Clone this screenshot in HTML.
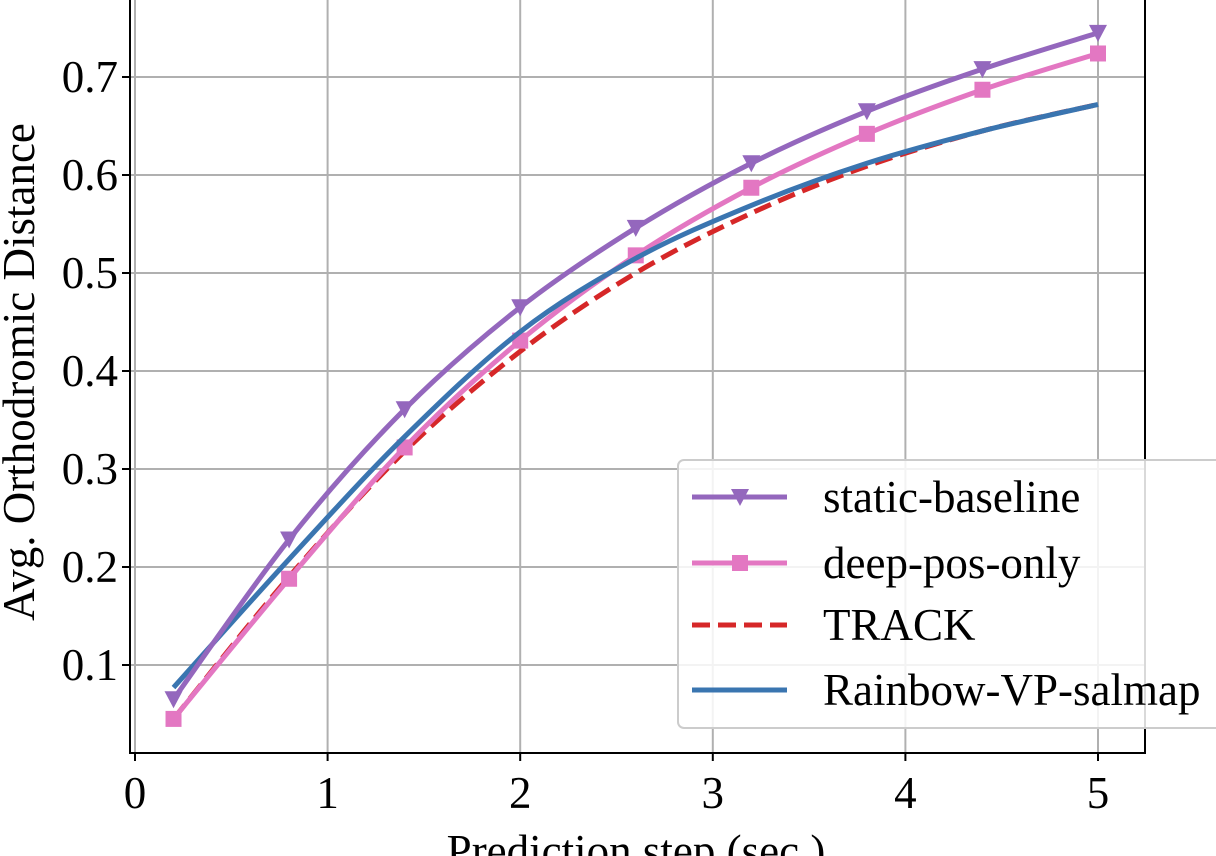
<!DOCTYPE html>
<html><head><meta charset="utf-8"><style>
body{margin:0;background:#fff}
svg{display:block;font-family:"Liberation Serif",serif}
</style></head><body>
<svg id="chart" width="1216" height="856" viewBox="0 0 1216 856" xmlns="http://www.w3.org/2000/svg"></svg>
<script>
const xValues=[0.2,0.8,1.4,2.0,2.6,3.2,3.8,4.4,5.0];
const staticBaseline=[0.065,0.228,0.361,0.465,0.546,0.612,0.665,0.708,0.745];
const deepPosOnly=[0.045,0.188,0.322,0.431,0.518,0.587,0.642,0.687,0.724];
const trackValues=[0.045,0.19,0.318,0.42,0.50,0.561,0.609,0.645,0.672];
const rainbowValues=[0.077,0.208,0.333,0.44,0.515,0.569,0.612,0.645,0.672];
const xTicks=[0,1,2,3,4,5];
const yTicks=[0.1,0.2,0.3,0.4,0.5,0.6,0.7];
const seriesNames=["static-baseline","deep-pos-only","TRACK","Rainbow-VP-salmap"];

const svg=document.getElementById('chart');
const NS='http://www.w3.org/2000/svg';
const L=130,R=1145,T=-2,B=753;
const FS=45;
const xs=v=>135+v*192.6;
const ys=v=>763-v*980;
function mk(tag,attrs,parent){const e=document.createElementNS(NS,tag);for(const k in attrs)e.setAttribute(k,attrs[k]);(parent||svg).appendChild(e);return e;}

xTicks.forEach(t=>{
  const g=mk('line',{x1:xs(t),x2:xs(t),y1:T,y2:B,stroke:'#b0b0b0','stroke-width':2});
  
  
  const tk=mk('line',{x1:xs(t),x2:xs(t),y1:B,y2:B+8,stroke:'#000','stroke-width':2});
  
  
  const tx=mk('text',{x:xs(t),y:B+55,'font-size':FS,'text-anchor':'middle'});tx.textContent=t;
  
  
});
yTicks.forEach(t=>{
  const g=mk('line',{x1:L,x2:R,y1:ys(t),y2:ys(t),stroke:'#b0b0b0','stroke-width':2});
  
  
  const tk=mk('line',{x1:L-8,x2:L,y1:ys(t),y2:ys(t),stroke:'#000','stroke-width':2});
  
  
  const tx=mk('text',{x:L-12,y:ys(t)+15,'font-size':FS,'text-anchor':'end'});tx.textContent=t.toFixed(1);
  
  
});
const frame=mk('rect',{x:L,y:T,width:R-L,height:B-T,fill:'none',stroke:'#000','stroke-width':2});



function smooth(vals){
  const p=xValues.map((x,i)=>[xs(x),ys(vals[i])]);
  let d='M'+p[0][0]+','+p[0][1];
  for(let i=0;i<p.length-1;i++){
    const p0=p[Math.max(0,i-1)],p1=p[i],p2=p[i+1],p3=p[Math.min(p.length-1,i+2)];
    const c1=[p1[0]+(p2[0]-p0[0])/6,p1[1]+(p2[1]-p0[1])/6];
    const c2=[p2[0]-(p3[0]-p1[0])/6,p2[1]-(p3[1]-p1[1])/6];
    d+=' C'+c1+' '+c2+' '+p2;
  }
  return d;
}
function tri(x,y,c,name){const e=mk('path',{d:`M${x-9},${y-8} L${x+9},${y-8} L${x},${y+9} Z`,fill:c});}
function sq(x,y,c,name){const e=mk('rect',{x:x-8,y:y-8,width:16,height:16,fill:c});}

const cols=['#9467bd','#e377c2','#d62728','#3a75b0'];
const LW=5;
let e;
e=mk('path',{d:smooth(trackValues),fill:'none',stroke:cols[2],'stroke-width':LW,'stroke-dasharray':'18,8'});

e=mk('path',{d:smooth(deepPosOnly),fill:'none',stroke:cols[1],'stroke-width':LW});

xValues.forEach((x,i)=>sq(xs(x),ys(deepPosOnly[i]),cols[1],'deep-pos-only-marker'));
e=mk('path',{d:smooth(rainbowValues),fill:'none',stroke:cols[3],'stroke-width':LW});

e=mk('path',{d:smooth(staticBaseline),fill:'none',stroke:cols[0],'stroke-width':LW});

xValues.forEach((x,i)=>tri(xs(x),ys(staticBaseline[i]),cols[0],'static-baseline-marker'));

const lg=mk('rect',{x:678,y:460,width:560,height:268,rx:6,fill:'#fff','fill-opacity':0.85,stroke:'#ccc','stroke-width':2});

const ly=[497,563,625,690];
seriesNames.forEach((n,i)=>{
  const l=mk('line',{x1:692,x2:787,y1:ly[i],y2:ly[i],stroke:cols[i],'stroke-width':LW});
  if(i===2)l.setAttribute('stroke-dasharray','18,8');
  
  if(i===0)tri(740,ly[i],cols[0],'legend-marker');
  if(i===1)sq(740,ly[i],cols[1],'legend-marker');
  const t=mk('text',{x:823,y:ly[i]+15,'font-size':FS});t.textContent=n;
  
});

e=mk('text',{x:636,y:866,'font-size':FS,'text-anchor':'middle'});e.textContent='Prediction step (sec.)';

e=mk('text',{x:0,y:0,'font-size':FS,'text-anchor':'middle',transform:'translate(34,372) rotate(-90)'});e.textContent='Avg. Orthodromic Distance';

</script>
</body></html>
